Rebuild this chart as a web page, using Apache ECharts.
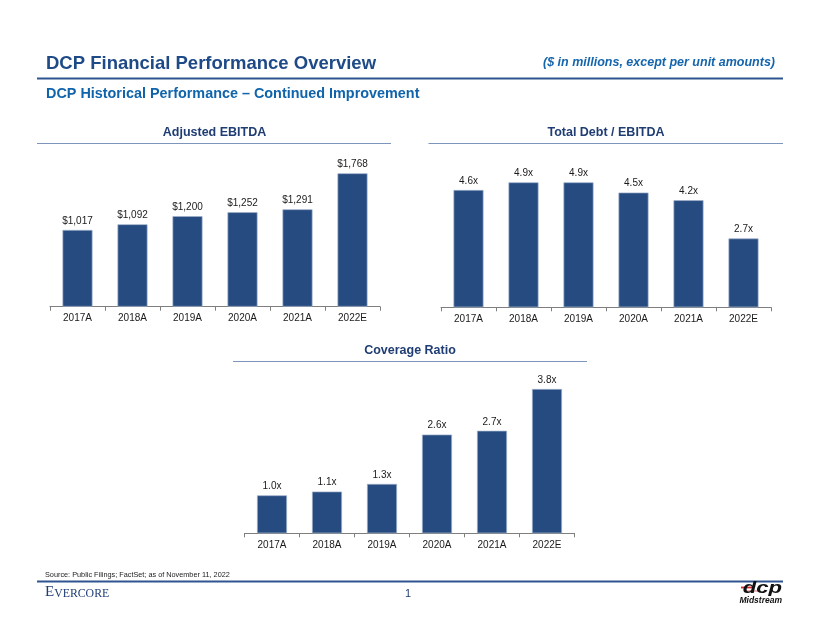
<!DOCTYPE html>
<html>
<head>
<meta charset="utf-8">
<script src="https://cdn.jsdelivr.net/npm/echarts@6/dist/echarts.min.js"></script>
<style>
html,body{margin:0;padding:0;background:#fff;}
#c{width:820px;height:634px;}
</style>
</head>
<body>
<div id="c"></div>
<script>
const categories = ['2017A','2018A','2019A','2020A','2021A','2022E'];
const ebitda = [1017, 1092, 1200, 1252, 1291, 1768];
const debtToEbitda = [4.6, 4.9, 4.9, 4.5, 4.2, 2.7];
const coverage = [1.0, 1.1, 1.3, 2.6, 2.7, 3.8];

const FONT = "'Liberation Sans', Arial, sans-serif";
const SERIF = "'Liberation Serif', 'DejaVu Serif', serif";
const BAR = '#264b80';
const TXT = '#1a1a1a';

const chart = echarts.init(document.getElementById('c'), null, {renderer:'canvas'});

function xAx(idx){
  return {
    type:'category', gridIndex:idx, data:categories,
    axisLine:{lineStyle:{color:'#7f7f7f', width:1}},
    axisTick:{show:true, length:4, lineStyle:{color:'#7f7f7f'}},
    axisLabel:{fontFamily:FONT, fontSize:10, color:TXT, margin:7}
  };
}
function yAx(idx, max){
  return {type:'value', gridIndex:idx, min:0, max:max, show:false, splitLine:{show:false}};
}
function ser(idx, data, fmt){
  return {
    type:'bar', xAxisIndex:idx, yAxisIndex:idx, data:data, barWidth:30,
    itemStyle:{color:BAR, borderColor:'#9fb0cc', borderWidth:0.7},
    label:{show:true, position:'top', distance:4, fontFamily:FONT, fontSize:10, color:TXT, formatter:fmt},
    silent:true
  };
}
const moneyFmt = p => '$' + p.value.toLocaleString('en-US');
const xFmt = p => p.value.toFixed(1) + 'x';

// baseline-positioned text
function txt(text, x, base, size, style, family, fill, align, extra){
  const el = {type:'text', x:x, y:base - 0.35*size, silent:true,
    style:{text:text, font:style + ' ' + size + 'px ' + family, fill:fill, align:align||'left', verticalAlign:'middle'}};
  return Object.assign(el, extra||{});
}
function line(x1,y1,x2,y2,color,w){
  return {type:'line', silent:true, shape:{x1:x1,y1:y1,x2:x2,y2:y2}, style:{stroke:color, lineWidth:w}};
}

const option = {
  animation:false,
  grid:[
    {left:50, width:330, top:155.8, height:150.9},
    {left:441, width:330, top:154.3, height:153},
    {left:244.5, width:330, top:381.4, height:151.9}
  ],
  xAxis:[xAx(0), xAx(1), xAx(2)],
  yAxis:[yAx(0,2000), yAx(1,6), yAx(2,4)],
  series:[ser(0, ebitda, moneyFmt), ser(1, debtToEbitda, xFmt), ser(2, coverage, xFmt)],
  graphic:[
    txt('DCP Financial Performance Overview', 46, 70, 18.5, 'bold', FONT, '#1e4a87'),
    txt('($ in millions, except per unit amounts)', 775, 66.5, 12.5, 'italic bold', FONT, '#1565ad', 'right'),
    line(37, 78.5, 783, 78.5, '#2e5590', 2),
    txt('DCP Historical Performance \u2013 Continued Improvement', 46, 99.5, 14.4, 'bold', FONT, '#1064ab'),
    txt('Adjusted EBITDA', 214.5, 137, 12.5, 'bold', FONT, '#1f3d73', 'center'),
    line(37, 143.5, 391, 143.5, '#7d95bb', 1.2),
    txt('Total Debt / EBITDA', 606, 137, 12.5, 'bold', FONT, '#1f3d73', 'center'),
    line(428.5, 143.5, 783, 143.5, '#7d95bb', 1.2),
    txt('Coverage Ratio', 410, 355, 12.5, 'bold', FONT, '#1f3d73', 'center'),
    line(233, 361.5, 587, 361.5, '#7d95bb', 1.2),
    txt('Source: Public Filings; FactSet; as of November 11, 2022', 45, 577.5, 7.3, 'normal', FONT, '#222'),
    line(37, 581.5, 783, 581.5, '#2e5590', 2),
    {type:'text', x:45, y:597.5 - 0.35*15, silent:true, style:{rich:{a:{font:"15px " + SERIF, fill:'#1f3d73', verticalAlign:'bottom'}, b:{font:"11.8px " + SERIF, fill:'#1f3d73', verticalAlign:'bottom'}}, text:'{a|E}{b|VERCORE}', verticalAlign:'middle'}},
    txt('1', 408, 597.5, 11, 'normal', FONT, '#1f3d73', 'center'),
    line(741, 587.5, 752, 587.5, '#d9262c', 1.8),
    line(744, 591, 760, 591, '#e07070', 1),
    txt('dcp', 782, 594.5, 17, 'italic bold', FONT, '#111', 'right', {scaleX:1.3}),
    txt('Midstream', 782, 604, 8.5, 'italic bold', FONT, '#111', 'right')
  ]
};
chart.setOption(option);
</script>
</body>
</html>
